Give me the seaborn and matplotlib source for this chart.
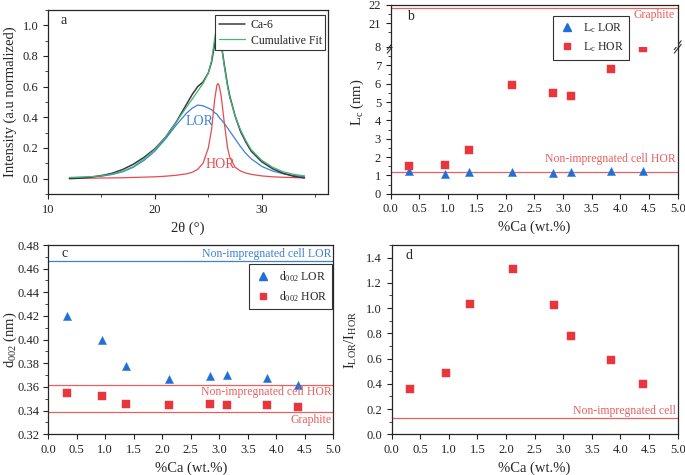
import matplotlib
matplotlib.use("Agg")
import matplotlib.pyplot as plt
import seaborn as sns
import pandas as pd
from matplotlib.ticker import MultipleLocator, FixedLocator, FormatStrFormatter
from matplotlib.lines import Line2D

# ---------------- data ----------------
two_theta = [12, 13, 14, 15, 16, 17, 18, 19, 20, 21, 22, 23, 23.5, 24, 24.5, 25, 25.3, 25.6,
             25.8, 25.9, 26.0, 26.2, 26.5, 26.8, 27, 27.5, 28, 28.5, 29, 30, 31, 32, 33, 34]
ca6 = [0.0, 0.003, 0.01, 0.02, 0.035, 0.06, 0.095, 0.14, 0.195, 0.27, 0.37, 0.49, 0.55, 0.60,
       0.63, 0.69, 0.76, 0.88, 0.96, 0.97, 0.95, 0.88, 0.74, 0.61, 0.54, 0.41, 0.31, 0.24,
       0.18, 0.11, 0.065, 0.035, 0.015, 0.005]
cum_fit = [0.008, 0.01, 0.013, 0.018, 0.03, 0.048, 0.08, 0.13, 0.19, 0.27, 0.37, 0.47, 0.52,
           0.57, 0.62, 0.69, 0.77, 0.92, 1.0, 1.01, 0.98, 0.88, 0.73, 0.60, 0.53, 0.41, 0.32,
           0.25, 0.19, 0.12, 0.075, 0.045, 0.028, 0.018]
lor_fit = [0.006, 0.008, 0.011, 0.016, 0.027, 0.045, 0.075, 0.12, 0.18, 0.26, 0.35, 0.43, 0.46,
           0.48, 0.475, 0.46, 0.45, 0.43, 0.42, 0.41, 0.40, 0.385, 0.36, 0.33, 0.31, 0.26, 0.21,
           0.165, 0.13, 0.08, 0.05, 0.032, 0.02, 0.014]
hor_fit = [0.002, 0.002, 0.003, 0.004, 0.005, 0.006, 0.008, 0.01, 0.012, 0.016, 0.022, 0.032,
           0.042, 0.06, 0.1, 0.2, 0.32, 0.52, 0.61, 0.62, 0.61, 0.54, 0.36, 0.2, 0.14, 0.075,
           0.05, 0.037, 0.028, 0.018, 0.012, 0.009, 0.007, 0.005]

ca_pct = [0.32, 0.95, 1.37, 2.12, 2.83, 3.14, 3.83, 4.39]
lc_lor = [1.22, 1.10, 1.18, 1.20, 1.15, 1.20, 1.25, 1.25]
lc_hor = [1.50, 1.55, 2.38, 5.92, 5.50, 5.30, 6.82, 7.92]
d002_lor = [0.420, 0.400, 0.378, 0.367, 0.369, 0.370, 0.368, 0.362]
d002_hor = [0.355, 0.352, 0.346, 0.345, 0.346, 0.345, 0.345, 0.343]
ratio = [0.355, 0.485, 1.035, 1.31, 1.025, 0.775, 0.585, 0.395]

lc_graphite = 21.84
lc_nonimp_hor = 1.18
d_nonimp_lor = 0.4665
d_nonimp_hor = 0.3614
d_graphite = 0.3386
ratio_nonimp = 0.128

lc_top_ticks = [21, 22]

# ---------------- style ----------------
sns.set_style("ticks")
plt.rcParams["font.family"] = ["Liberation Serif", "DejaVu Serif"]
plt.rcParams["mathtext.fontset"] = "custom"
plt.rcParams["mathtext.rm"] = "Liberation Serif"
plt.rcParams["mathtext.it"] = "Liberation Serif:italic"
plt.rcParams["axes.linewidth"] = 0.9
plt.rcParams["xtick.direction"] = "out"
plt.rcParams["ytick.direction"] = "out"
plt.rcParams["xtick.major.size"] = 3.5
plt.rcParams["ytick.major.size"] = 3.5
plt.rcParams["xtick.minor.size"] = 2
plt.rcParams["ytick.minor.size"] = 2
plt.rcParams["xtick.labelsize"] = 9
plt.rcParams["ytick.labelsize"] = 9
plt.rcParams["axes.labelsize"] = 10.5

C_BLACK = "#3a3a3a"
C_GREEN = "#45b57a"
C_BLUE_L = "#3d80d9"
C_RED_L = "#e84a4f"
C_BLUE_M = "#1f6fd6"
C_RED_M = "#e8363c"
C_HLINE = "#e86060"

fig = plt.figure(figsize=(6.85, 4.75), dpi=100)

# ---------------- panel a ----------------
axa = fig.add_axes([0.0701, 0.5916, 0.4088, 0.3874])
dfa = pd.DataFrame({"x": two_theta, "ca6": ca6, "fit": cum_fit, "lor": lor_fit, "hor": hor_fit})
sns.lineplot(data=dfa, x="x", y="lor", ax=axa, color=C_BLUE_L, lw=0.9)
sns.lineplot(data=dfa, x="x", y="hor", ax=axa, color=C_RED_L, lw=0.9)
sns.lineplot(data=dfa, x="x", y="ca6", ax=axa, color=C_BLACK, lw=1.1)
sns.lineplot(data=dfa, x="x", y="fit", ax=axa, color=C_GREEN, lw=0.9)
axa.set_xlim(10, 36.2)
axa.set_ylim(-0.1, 1.1)
axa.xaxis.set_major_locator(MultipleLocator(10))
axa.xaxis.set_minor_locator(MultipleLocator(5))
axa.yaxis.set_major_locator(MultipleLocator(0.2))
axa.yaxis.set_minor_locator(MultipleLocator(0.1))
axa.yaxis.set_major_formatter(FormatStrFormatter("%.1f"))
axa.set_xlabel("2θ (°)")
axa.set_ylabel("Intensity (a.u normalized)")
axa.yaxis.set_label_coords(-0.11, 0.5)
axa.text(11.2, 1.03, "a", fontsize=10, va="center")
axa.text(24.2, 0.37, "LOR", color=C_BLUE_L, fontsize=10, ha="center", va="center")
axa.text(26.1, 0.09, "HOR", color=C_RED_L, fontsize=10, ha="center", va="center")
handles_a = [Line2D([], [], color=C_BLACK, lw=1.1), Line2D([], [], color=C_GREEN, lw=0.9)]
leg = axa.legend(handles_a, ["Ca-6", "Cumulative Fit"], loc="upper right",
                 bbox_to_anchor=(0.99, 0.97), fontsize=8.5, frameon=True, fancybox=False,
                 edgecolor="#333333", framealpha=1, borderpad=0.3, handlelength=2.2,
                 labelspacing=0.3, handletextpad=0.5, borderaxespad=0)
leg.get_frame().set_linewidth(0.8)

# ---------------- panel b (broken axis) ----------------
left_b, width_b = 0.5704, 0.419
axb = fig.add_axes([left_b, 0.5922, width_b, 0.3089])
axb_top = fig.add_axes([left_b, 0.9011, width_b, 0.0884], sharex=axb)
dfb = pd.DataFrame({"ca": ca_pct, "lor": lc_lor, "hor": lc_hor})
for ax in (axb, axb_top):
    ax.axhline(lc_nonimp_hor, color=C_HLINE, lw=0.9, zorder=1)
    ax.axhline(lc_graphite, color=C_HLINE, lw=0.9, zorder=1)
    sns.scatterplot(data=dfb, x="ca", y="lor", ax=ax, marker="^", color=C_BLUE_M, s=34,
                    edgecolor=C_BLUE_M, linewidth=0.3, zorder=3)
    sns.scatterplot(data=dfb, x="ca", y="hor", ax=ax, marker="s", color=C_RED_M, s=26,
                    edgecolor=C_RED_M, linewidth=0.3, zorder=3)
    ax.set_xlim(0, 5)
axb.set_ylim(0, 8)
axb_top.set_ylim(19.71, 22)
axb.spines["top"].set_visible(False)
axb_top.spines["bottom"].set_visible(False)
axb_top.tick_params(axis="x", which="both", bottom=False, labelbottom=False)
axb_top.set_xlabel("")
axb_top.set_ylabel("")
axb_top.yaxis.set_major_locator(FixedLocator(lc_top_ticks))
axb_top.yaxis.set_minor_locator(FixedLocator([20.5, 21.5]))
axb.yaxis.set_major_locator(MultipleLocator(1))
axb.yaxis.set_minor_locator(MultipleLocator(0.5))
axb.xaxis.set_major_locator(MultipleLocator(0.5))
axb.xaxis.set_major_formatter(FormatStrFormatter("%.1f"))
axb.set_xlabel("%Ca (wt.%)")
axb.set_ylabel("L$_\\mathrm{c}$ (nm)")
axb.yaxis.set_label_coords(-0.085, 0.62)
# break marks
for xpos in (0, 1):
    for dy in (-0.012, 0.012):
        axb.plot([xpos - 0.012, xpos + 0.012], [1 - 0.03 + dy, 1 + 0.03 + dy],
                 transform=axb.transAxes, color="#333333", lw=0.8, clip_on=False)
axb_top.text(4.95, 21.45, "Graphite", color=C_HLINE, fontsize=8.5, ha="right", va="center")
axb.text(4.97, 1.88, "Non-impregnated cell HOR", color=C_HLINE, fontsize=8.5,
         ha="right", va="center")
axb_top.text(0.28, 21.35, "b", fontsize=10, va="center")
handles_b = [Line2D([], [], marker="^", color=C_BLUE_M, ls="none", markersize=6),
             Line2D([], [], marker="s", color=C_RED_M, ls="none", markersize=5)]
legb = fig.legend(handles_b, ["L$_\\mathrm{c}$ LOR", "L$_\\mathrm{c}$ HOR"], loc="upper left",
                  bbox_to_anchor=(0.807, 0.966), fontsize=8.5, frameon=True, fancybox=False,
                  edgecolor="#333333", framealpha=1, borderpad=0.45, handlelength=1.5,
                  labelspacing=0.45, handletextpad=0.6, borderaxespad=0)
legb.get_frame().set_linewidth(0.8)

# ---------------- panel c ----------------
axc = fig.add_axes([0.0705, 0.0857, 0.416, 0.3985])
dfc = pd.DataFrame({"ca": ca_pct, "lor": d002_lor, "hor": d002_hor})
axc.axhline(d_nonimp_lor, color=C_BLUE_L, lw=0.9, zorder=1)
axc.axhline(d_nonimp_hor, color=C_HLINE, lw=0.9, zorder=1)
axc.axhline(d_graphite, color=C_HLINE, lw=0.9, zorder=1)
sns.scatterplot(data=dfc, x="ca", y="lor", ax=axc, marker="^", color=C_BLUE_M, s=34,
                edgecolor=C_BLUE_M, linewidth=0.3, zorder=3)
sns.scatterplot(data=dfc, x="ca", y="hor", ax=axc, marker="s", color=C_RED_M, s=26,
                edgecolor=C_RED_M, linewidth=0.3, zorder=3)
axc.set_xlim(0, 5)
axc.set_ylim(0.32, 0.48)
axc.xaxis.set_major_locator(MultipleLocator(0.5))
axc.xaxis.set_major_formatter(FormatStrFormatter("%.1f"))
axc.yaxis.set_major_locator(MultipleLocator(0.02))
axc.yaxis.set_minor_locator(MultipleLocator(0.01))
axc.yaxis.set_major_formatter(FormatStrFormatter("%.2f"))
axc.tick_params(axis="y", pad=2.5)
axc.set_xlabel("%Ca (wt.%)")
axc.set_ylabel("d$_{002}$ (nm)")
axc.yaxis.set_label_coords(-0.102, 0.5)
axc.text(4.97, 0.4721, "Non-impregnated cell LOR", color=C_BLUE_L, fontsize=8.5,
         ha="right", va="center")
axc.text(4.97, 0.356, "Non-impregnated cell HOR", color=C_HLINE, fontsize=8.5,
         ha="right", va="center")
axc.text(4.97, 0.332, "Graphite", color=C_HLINE, fontsize=8.5, ha="right", va="center")
axc.text(0.23, 0.4725, "c", fontsize=10, va="center")
handles_c = [Line2D([], [], marker="^", color=C_BLUE_M, ls="none", markersize=6),
             Line2D([], [], marker="s", color=C_RED_M, ls="none", markersize=5)]
legc = axc.legend(handles_c, ["d$_{002}$ LOR", "d$_{002}$ HOR"], loc="upper right",
                  bbox_to_anchor=(0.997, 0.9), fontsize=8.5, frameon=True, fancybox=False,
                  edgecolor="#333333", framealpha=1, borderpad=0.45, handlelength=1.5,
                  labelspacing=0.45, handletextpad=0.6, borderaxespad=0)
legc.get_frame().set_linewidth(0.8)

# ---------------- panel d ----------------
axd = fig.add_axes([0.5718, 0.0857, 0.4175, 0.3985])
dfd = pd.DataFrame({"ca": ca_pct, "ratio": ratio})
axd.axhline(ratio_nonimp, color=C_HLINE, lw=0.9, zorder=1)
sns.scatterplot(data=dfd, x="ca", y="ratio", ax=axd, marker="s", color=C_RED_M, s=26,
                edgecolor=C_RED_M, linewidth=0.3, zorder=3)
axd.set_xlim(0, 5)
axd.set_ylim(0, 1.5)
axd.xaxis.set_major_locator(MultipleLocator(0.5))
axd.xaxis.set_major_formatter(FormatStrFormatter("%.1f"))
axd.yaxis.set_major_locator(MultipleLocator(0.2))
axd.yaxis.set_minor_locator(MultipleLocator(0.1))
axd.yaxis.set_major_formatter(FormatStrFormatter("%.1f"))
axd.set_xlabel("%Ca (wt.%)")
axd.set_ylabel("I$_\\mathrm{LOR}$/I$_\\mathrm{HOR}$")
axd.yaxis.set_label_coords(-0.115, 0.5)
axd.text(4.97, 0.184, "Non-impregnated cell", color=C_HLINE, fontsize=8.5,
         ha="right", va="center")
axd.text(0.24, 1.42, "d", fontsize=10, va="center")

for ax in (axa, axb, axb_top, axc, axd):
    ax.tick_params(colors="#222222", width=0.8)

fig.savefig("out.png", dpi=100)
